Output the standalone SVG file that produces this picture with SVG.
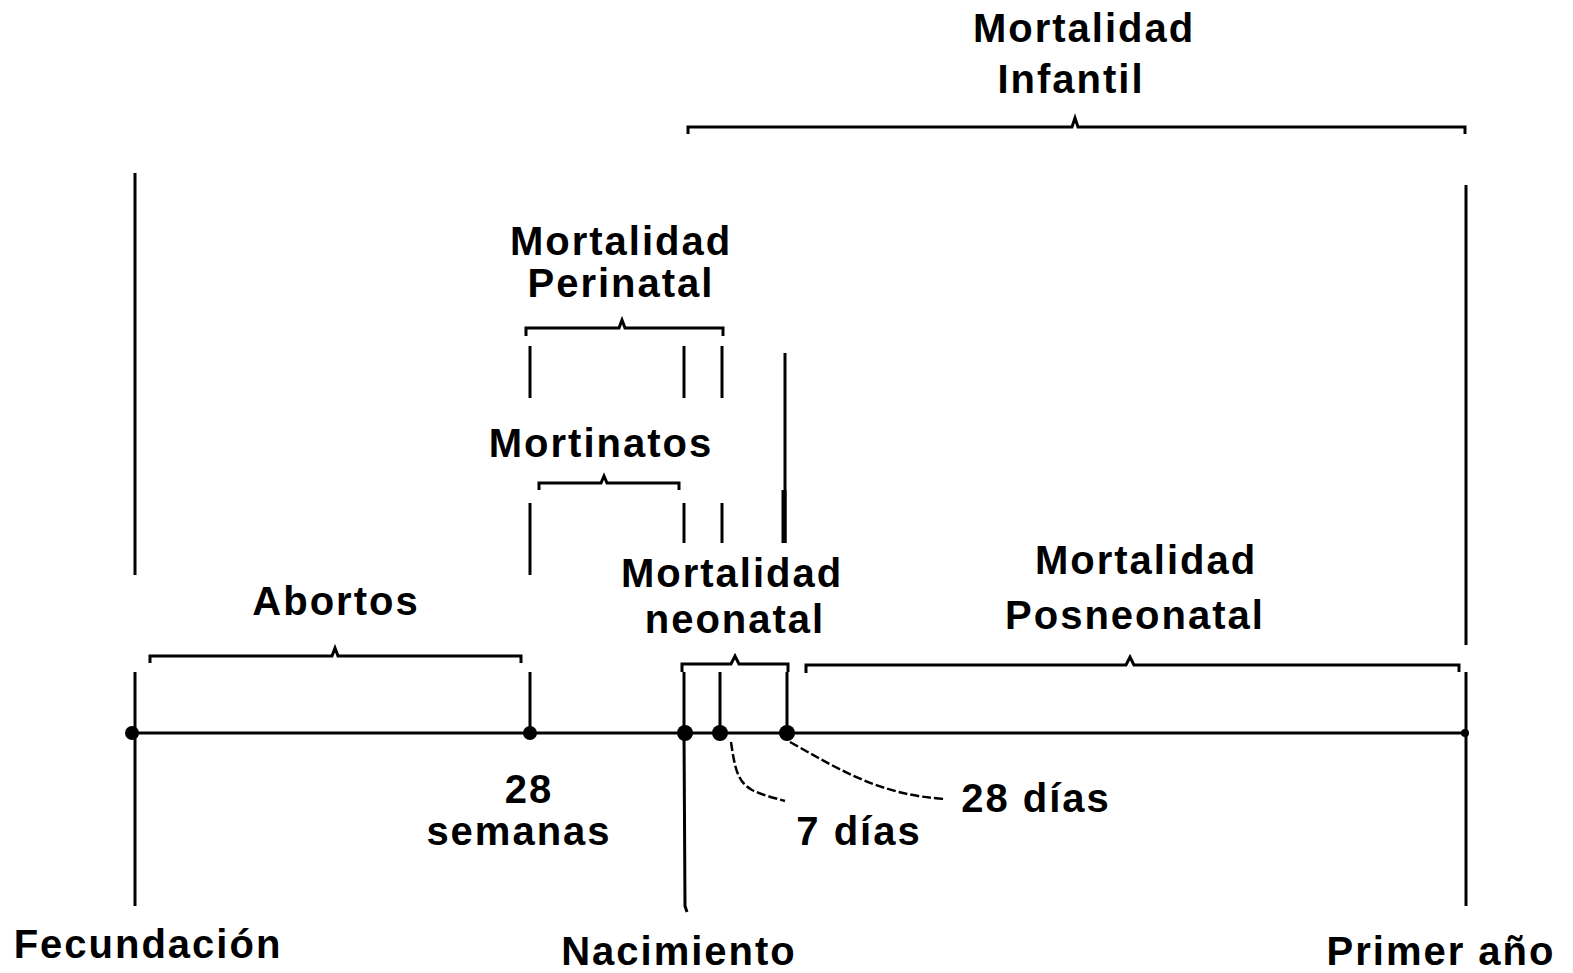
<svg xmlns="http://www.w3.org/2000/svg" width="1573" height="973" viewBox="0 0 1573 973">
<style>
text{font-family:"Liberation Sans",Arial,sans-serif;font-size:40px;font-weight:bold;letter-spacing:2px;fill:#000;text-anchor:middle}
.l{stroke:#000;stroke-width:3;fill:none}
.b{stroke:#000;stroke-width:3;fill:none;stroke-linejoin:miter}
.c{stroke:#000;stroke-width:2.5;fill:none;stroke-dasharray:9 3}
</style>
<rect width="1573" height="973" fill="#fff"/>
<g id="connectors">
<line class="l" x1="132" y1="733" x2="1466" y2="733"/>
<line class="l" x1="135" y1="173" x2="135" y2="575"/>
<line class="l" x1="135" y1="672" x2="135" y2="906"/>
<line class="l" x1="530" y1="346" x2="530" y2="398"/>
<line class="l" x1="530" y1="503" x2="530" y2="575"/>
<line class="l" x1="530" y1="672" x2="530" y2="733"/>
<line class="l" x1="684" y1="346" x2="684" y2="398"/>
<line class="l" x1="684" y1="503" x2="684" y2="543"/>
<line class="l" x1="684" y1="672" x2="684" y2="733"/>
<polyline class="l" points="684,733 685,906 687,912"/>
<line class="l" x1="722" y1="346" x2="722" y2="398"/>
<line class="l" x1="722" y1="503" x2="722" y2="543"/>
<line class="l" x1="720" y1="672" x2="720" y2="733"/>
<line class="l" x1="785" y1="353" x2="785" y2="543"/>
<line stroke="#000" stroke-width="5" x1="784" y1="490" x2="784" y2="543"/>
<line class="l" x1="787" y1="672" x2="787" y2="733"/>
<line class="l" x1="1466" y1="185" x2="1466" y2="645"/>
<line class="l" x1="1466" y1="672" x2="1466" y2="906"/>
<path class="c" d="M731,742 C735,770 738,782 752,790 C762,795 775,798 785,801"/>
<path class="c" d="M790,742 C840,770 880,795 945,799"/>
</g>
<g id="dots" fill="#000">
<circle cx="132" cy="733" r="7"/>
<circle cx="530" cy="733" r="7"/>
<circle cx="685" cy="733" r="8"/>
<circle cx="720" cy="733" r="8"/>
<circle cx="787" cy="733" r="8"/>
<circle cx="1465" cy="733" r="4"/>
</g>
<g id="brace-infantil"><path class="b" d="M688,134 V127 H1072 L1075,118 L1078,127 H1465 V134"/></g>
<g id="brace-perinatal"><path class="b" d="M526,336 V328 H619 L622,320 L625,328 H723 V336"/></g>
<g id="brace-mortinatos"><path class="b" d="M539,490 V483 H601 L604,476 L607,483 H679 V490"/></g>
<g id="brace-abortos"><path class="b" d="M150,663 V656 H332 L335,648 L338,656 H521 V663"/></g>
<g id="brace-neonatal"><path class="b" d="M682,672 V664 H731 L735,656 L739,664 H788 V672"/></g>
<g id="brace-posneonatal"><path class="b" d="M806,673 V665 H1126 L1130,657 L1134,665 H1459 V672"/></g>
<g id="label-infantil"><text x="1084" y="42">Mortalidad</text><text x="1071" y="93">Infantil</text></g>
<g id="label-perinatal"><text x="621" y="255">Mortalidad</text><text x="621" y="297">Perinatal</text></g>
<g id="label-mortinatos"><text x="601" y="457">Mortinatos</text></g>
<g id="label-abortos"><text x="336" y="615">Abortos</text></g>
<g id="label-neonatal"><text x="732" y="587">Mortalidad</text><text x="735" y="633">neonatal</text></g>
<g id="label-posneonatal"><text x="1146" y="574">Mortalidad</text><text x="1135" y="629">Posneonatal</text></g>
<g id="label-28sem"><text x="529" y="803">28</text><text x="519" y="845">semanas</text></g>
<g id="label-7dias"><text x="859" y="845">7 días</text></g>
<g id="label-28dias"><text x="1036" y="812">28 días</text></g>
<g id="label-fecundacion"><text x="148" y="958">Fecundación</text></g>
<g id="label-nacimiento"><text x="679" y="965">Nacimiento</text></g>
<g id="label-primer"><text x="1441" y="965">Primer año</text></g>
</svg>
